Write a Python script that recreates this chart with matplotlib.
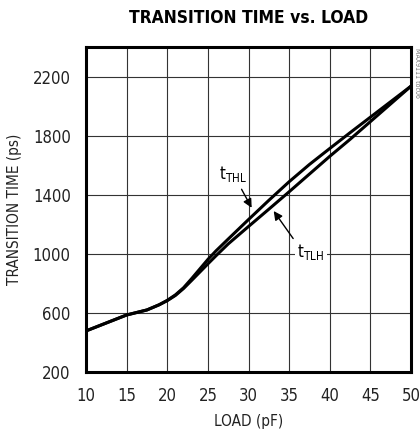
import numpy as np
import matplotlib
matplotlib.use("Agg")
from matplotlib import pyplot as plt

plt.rcParams['font.family'] = ['DejaVu Sans']
plt.rcParams['font.stretch'] = 'condensed'

# load (pF) vs transition time (ps)
load = [10, 12.5, 15, 17.5, 19, 20, 21, 22, 23, 24, 25, 26, 27.5, 30, 32.5, 35, 37.5, 40, 42.5, 45, 47.5, 50]
t_thl = [478, 532, 586, 620, 655, 685, 722, 770, 832, 897, 962, 1020, 1100, 1232, 1362, 1488, 1605, 1713, 1820, 1925, 2030, 2135]
t_tlh = [478, 532, 586, 620, 655, 683, 718, 765, 820, 876, 932, 987, 1067, 1185, 1302, 1420, 1540, 1660, 1775, 1895, 2015, 2135]

xticks = [10, 15, 20, 25, 30, 35, 40, 45, 50]
yticks = [200, 600, 1000, 1400, 1800, 2200]

fig = plt.figure(figsize=(4.2, 4.32), dpi=100)
ax = fig.add_axes([0.2048, 0.1389, 0.7738, 0.7523])

ax.plot(load, t_thl, color='black', lw=2.2, solid_capstyle='butt')
ax.plot(load, t_tlh, color='black', lw=2.2, solid_capstyle='butt')

ax.set_xlim(10, 50)
ax.set_ylim(200, 2400)
ax.set_xticks(xticks)
ax.set_yticks(yticks)
ax.grid(True, color='#333333', lw=0.8)
ax.tick_params(length=0, labelsize=12, colors='#222222')
ax.tick_params(axis='x', pad=11)
ax.tick_params(axis='y', pad=11)
for s in ax.spines.values():
    s.set_linewidth(2.2)

ax.set_xlabel('LOAD (pF)', fontsize=11, color='#222222', labelpad=6)
ax.set_ylabel('TRANSITION TIME (ps)', fontsize=11, color='#222222', labelpad=8)
ax.set_title('TRANSITION TIME vs. LOAD', fontsize=12.5, fontweight='bold', pad=17)

ax.annotate('t$_{\\mathregular{THL}}$', xy=(30.55, 1295), xytext=(26.4, 1540),
            fontsize=12, ha='left', va='center',
            arrowprops=dict(arrowstyle='-|>', color='black', lw=1.0, mutation_scale=13))
ax.annotate('t$_{\\mathregular{TLH}}$', xy=(32.9, 1305), xytext=(36.0, 1010),
            fontsize=12, ha='left', va='center',
            bbox=dict(boxstyle='square,pad=0.15', fc='white', ec='none'),
            arrowprops=dict(arrowstyle='-|>', color='black', lw=1.0, mutation_scale=13,
                            relpos=(0.0, 0.9)))

fig.text(0.993, 0.89, 'MAX9111 toc06', rotation=-90, fontsize=5, color='#777777',
         ha='center', va='top')

fig.savefig('out.png', dpi=100)
